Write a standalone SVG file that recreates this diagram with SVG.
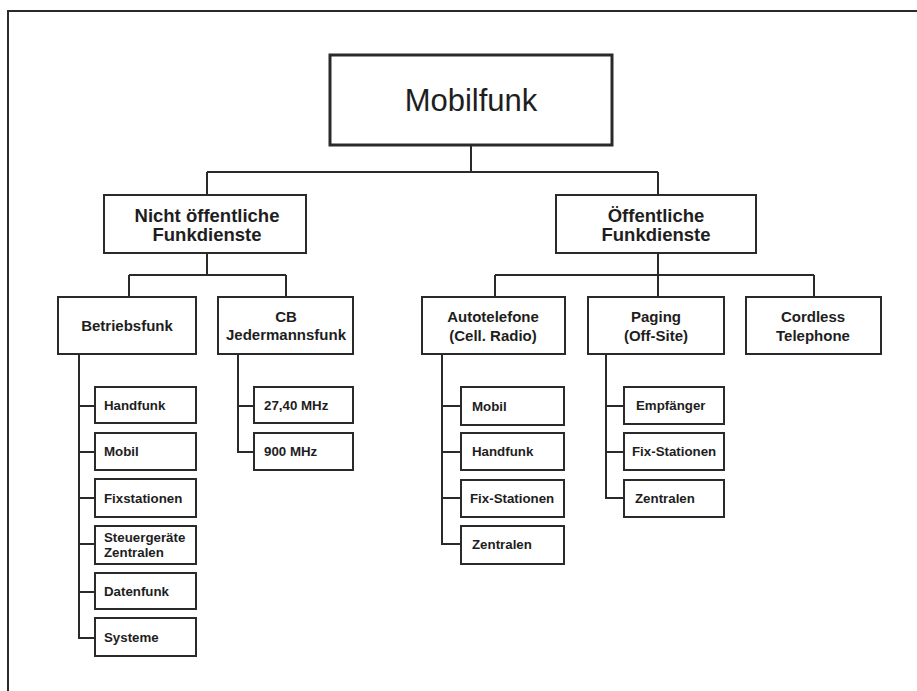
<svg xmlns="http://www.w3.org/2000/svg" width="917" height="691" viewBox="0 0 917 691">
<style>
.box{fill:#fff;stroke:#2a2a2a;stroke-width:2}
.big{fill:#fff;stroke:#2a2a2a;stroke-width:3}
.ln{fill:none;stroke:#2a2a2a;stroke-width:2}
text{font-family:"Liberation Sans",Arial,sans-serif;fill:#1e1e1e}
.t1{font-size:31px}
.t2{font-size:18.5px;font-weight:bold;text-anchor:middle}
.t3{font-size:15px;font-weight:bold;text-anchor:middle}
.t4{font-size:13.3px;font-weight:bold}
</style>
<rect width="917" height="691" fill="#fff"/>
<g id="frame" class="ln"><path d="M8,691 V11 H917"/></g>
<g id="connectors" class="ln">
<path d="M471,145 V172 M207,172 H658 M207,172 V195 M658,172 V195"/>
<path d="M207,253 V275 M129,275 H286 M129,275 V297 M286,275 V297"/>
<path d="M658,253 V297 M495,275 H814 M495,275 V297 M814,275 V297"/>
<path d="M79,354 V638 H95 M79,406 H95 M79,452 H95 M79,498 H95 M79,544 H95 M79,592 H95"/>
<path d="M238,354 V452 H254 M238,406 H254"/>
<path d="M442,354 V544 H461 M442,406 H461 M442,452 H461 M442,498 H461"/>
<path d="M606,354 V498 H624 M606,406 H624 M606,452 H624"/>
</g>
<g id="mobilfunk"><rect class="big" x="330" y="55" width="282" height="90"/><text class="t1" x="471" y="111" text-anchor="middle">Mobilfunk</text></g>
<g id="nicht"><rect class="box" x="104" y="195" width="202" height="58"/><text class="t2" x="207" y="222">Nicht öffentliche</text><text class="t2" x="207" y="241">Funkdienste</text></g>
<g id="oeff"><rect class="box" x="556" y="195" width="200" height="58"/><text class="t2" x="656" y="222">Öffentliche</text><text class="t2" x="656" y="241">Funkdienste</text></g>
<g id="betriebsfunk"><rect class="box" x="58" y="297" width="138" height="57"/><text class="t3" x="127" y="331">Betriebsfunk</text></g>
<g id="cb"><rect class="box" x="218" y="297" width="135" height="57"/><text class="t3" x="286" y="322">CB</text><text class="t3" x="286" y="340">Jedermannsfunk</text></g>
<g id="auto"><rect class="box" x="422" y="297" width="143" height="57"/><text class="t3" x="493" y="322">Autotelefone</text><text class="t3" x="493" y="341">(Cell. Radio)</text></g>
<g id="paging"><rect class="box" x="588" y="297" width="136" height="57"/><text class="t3" x="656" y="322">Paging</text><text class="t3" x="656" y="341">(Off-Site)</text></g>
<g id="cordless"><rect class="box" x="746" y="297" width="135" height="57"/><text class="t3" x="813" y="322">Cordless</text><text class="t3" x="813" y="341">Telephone</text></g>
<g id="b-handfunk"><rect class="box" x="95" y="387" width="101" height="36"/><text class="t4" x="104" y="410">Handfunk</text></g>
<g id="b-mobil"><rect class="box" x="95" y="433" width="101" height="37"/><text class="t4" x="104" y="456">Mobil</text></g>
<g id="b-fix"><rect class="box" x="95" y="479" width="101" height="38"/><text class="t4" x="104" y="503">Fixstationen</text></g>
<g id="b-steuer"><rect class="box" x="95" y="526" width="101" height="38"/><text class="t4" x="104" y="542">Steuergeräte</text><text class="t4" x="104" y="557">Zentralen</text></g>
<g id="b-daten"><rect class="box" x="95" y="573" width="101" height="36"/><text class="t4" x="104" y="596">Datenfunk</text></g>
<g id="b-systeme"><rect class="box" x="95" y="618" width="101" height="38"/><text class="t4" x="104" y="642">Systeme</text></g>
<g id="cb-27"><rect class="box" x="254" y="387" width="99" height="36"/><text class="t4" x="264" y="410">27,40 MHz</text></g>
<g id="cb-900"><rect class="box" x="254" y="433" width="99" height="37"/><text class="t4" x="264" y="456">900 MHz</text></g>
<g id="a-mobil"><rect class="box" x="461" y="387" width="103" height="38"/><text class="t4" x="472" y="411">Mobil</text></g>
<g id="a-handfunk"><rect class="box" x="461" y="433" width="103" height="37"/><text class="t4" x="472" y="456">Handfunk</text></g>
<g id="a-fix"><rect class="box" x="461" y="480" width="103" height="37"/><text class="t4" x="470" y="503">Fix-Stationen</text></g>
<g id="a-zentralen"><rect class="box" x="461" y="526" width="103" height="38"/><text class="t4" x="472" y="549">Zentralen</text></g>
<g id="p-empf"><rect class="box" x="624" y="387" width="100" height="37"/><text class="t4" x="636" y="410">Empfänger</text></g>
<g id="p-fix"><rect class="box" x="624" y="433" width="100" height="37"/><text class="t4" x="632" y="456">Fix-Stationen</text></g>
<g id="p-zentralen"><rect class="box" x="624" y="480" width="100" height="37"/><text class="t4" x="635" y="503">Zentralen</text></g>
</svg>
